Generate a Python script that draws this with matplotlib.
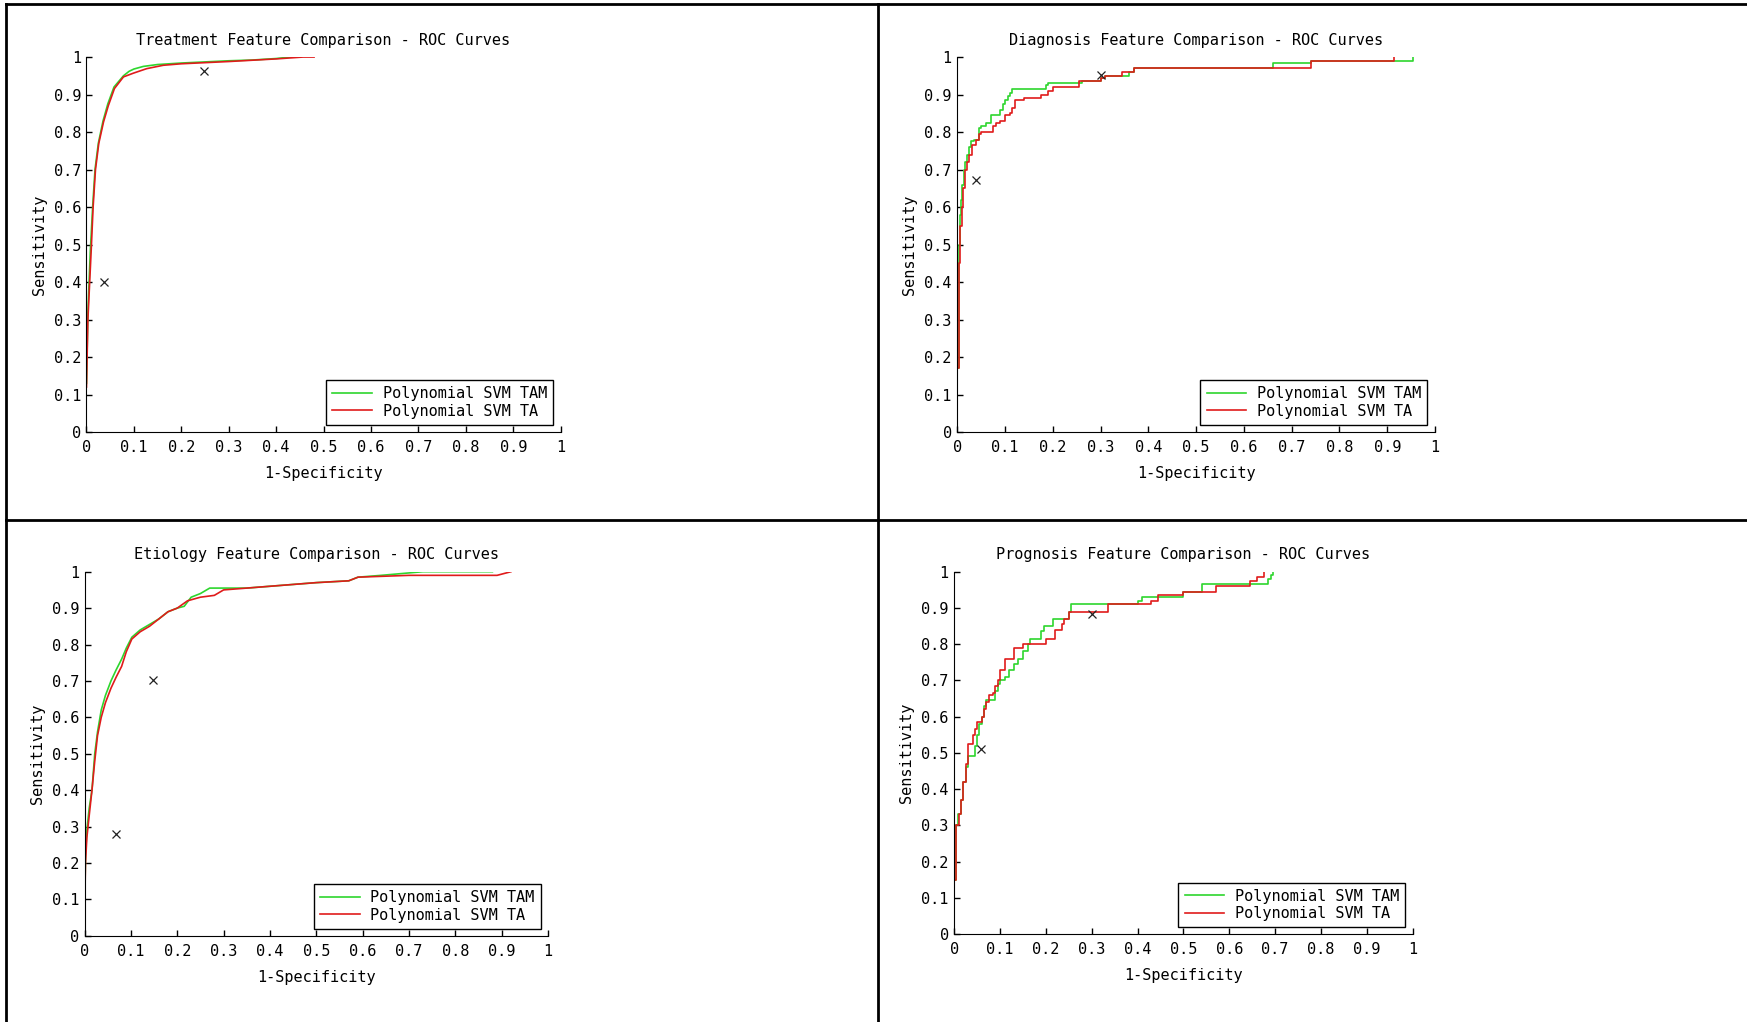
import matplotlib
matplotlib.use("Agg")
import matplotlib.pyplot as plt
from matplotlib.lines import Line2D

plt.rcParams['font.family'] = ['DejaVu Sans Mono']

GREEN = '#2ed62e'
RED = '#e01b1b'

# ---- data (1-specificity, sensitivity) ----
treat_tam_x = [0, 0.003, 0.008, 0.013, 0.018, 0.025, 0.035, 0.045, 0.058, 0.078, 0.09, 0.1,
               0.12, 0.15, 0.2, 0.25, 0.3, 0.35, 0.4, 0.43, 0.44]
treat_tam_y = [0.13, 0.32, 0.48, 0.60, 0.70, 0.77, 0.83, 0.875, 0.92, 0.95, 0.962, 0.968,
               0.975, 0.98, 0.984, 0.987, 0.99, 0.992, 0.996, 1.0, 1.0]
treat_ta_x = [0, 0.003, 0.01, 0.014, 0.019, 0.026, 0.036, 0.046, 0.059, 0.078, 0.099, 0.127,
              0.162, 0.2, 0.3, 0.4, 0.457, 0.48]
treat_ta_y = [0.12, 0.30, 0.486, 0.60, 0.70, 0.77, 0.827, 0.87, 0.916, 0.947, 0.957, 0.969,
              0.978, 0.982, 0.988, 0.995, 1.0, 1.0]
treat_pts_x = [0.248, 0.037]
treat_pts_y = [0.964, 0.399]

diag_tam_x = [0, 0.003, 0.005, 0.008, 0.01, 0.013, 0.016, 0.02, 0.024, 0.028,
              0.035, 0.045, 0.05, 0.06, 0.07, 0.09, 0.095, 0.1, 0.105, 0.11,
              0.115, 0.185, 0.19, 0.26, 0.3, 0.31, 0.36, 0.37, 0.66, 0.74, 0.955]
diag_tam_y = [0.17, 0.50, 0.58, 0.62, 0.66, 0.70, 0.72, 0.74, 0.76, 0.775,
              0.78, 0.81, 0.815, 0.825, 0.845, 0.86, 0.875, 0.885, 0.895, 0.905,
              0.915, 0.925, 0.93, 0.935, 0.945, 0.95, 0.96, 0.97, 0.985, 0.99, 1.0]
diag_ta_x = [0, 0.003, 0.006, 0.01, 0.012, 0.015, 0.02, 0.025, 0.03, 0.04,
             0.045, 0.05, 0.075, 0.08, 0.09, 0.1, 0.11, 0.115, 0.12, 0.14,
             0.175, 0.19, 0.2, 0.255, 0.3, 0.31, 0.345, 0.37, 0.74, 0.915]
diag_ta_y = [0.17, 0.45, 0.55, 0.60, 0.65, 0.70, 0.72, 0.74, 0.765, 0.78,
             0.795, 0.80, 0.815, 0.825, 0.83, 0.845, 0.85, 0.865, 0.885, 0.89,
             0.90, 0.91, 0.92, 0.935, 0.945, 0.95, 0.96, 0.97, 0.99, 1.0]
diag_pts_x = [0.30, 0.039]
diag_pts_y = [0.951, 0.672]

etio_tam_x = [0, 0.002, 0.005, 0.01, 0.016, 0.022, 0.028, 0.036, 0.045, 0.057,
              0.068, 0.08, 0.09, 0.102, 0.12, 0.14, 0.16, 0.18, 0.2, 0.215,
              0.23, 0.25, 0.27, 0.3, 0.35, 0.4, 0.45, 0.5, 0.57, 0.59,
              0.64, 0.73, 0.88]
etio_tam_y = [0.05, 0.22, 0.29, 0.35, 0.40, 0.50, 0.56, 0.62, 0.66, 0.70,
              0.73, 0.76, 0.79, 0.82, 0.84, 0.855, 0.87, 0.89, 0.90, 0.905,
              0.93, 0.94, 0.955, 0.955, 0.955, 0.96, 0.965, 0.97, 0.975, 0.985,
              0.99, 1.0, 1.0]
etio_ta_x = [0, 0.002, 0.005, 0.01, 0.016, 0.022, 0.028, 0.036, 0.045, 0.057,
             0.068, 0.08, 0.09, 0.102, 0.12, 0.14, 0.16, 0.18, 0.2, 0.222,
             0.25, 0.28, 0.3, 0.35, 0.4, 0.45, 0.5, 0.57, 0.59, 0.7,
             0.89, 0.92]
etio_ta_y = [0.05, 0.2, 0.27, 0.33, 0.40, 0.48, 0.55, 0.60, 0.64, 0.68,
             0.71, 0.74, 0.78, 0.815, 0.835, 0.85, 0.87, 0.89, 0.90, 0.92,
             0.93, 0.935, 0.95, 0.955, 0.96, 0.965, 0.97, 0.975, 0.985, 0.99,
             0.99, 1.0]
etio_pts_x = [0.148, 0.067]
etio_pts_y = [0.702, 0.28]

prog_tam_x = [0, 0.003, 0.008, 0.015, 0.02, 0.025, 0.03, 0.045, 0.05, 0.055,
              0.06, 0.065, 0.07, 0.09, 0.095, 0.1, 0.11, 0.12, 0.13, 0.14,
              0.15, 0.16, 0.165, 0.19, 0.195, 0.215, 0.25, 0.255, 0.40, 0.41,
              0.50, 0.54, 0.685, 0.69, 0.695]
prog_tam_y = [0.15, 0.30, 0.33, 0.37, 0.42, 0.46, 0.49, 0.52, 0.55, 0.58,
              0.60, 0.63, 0.645, 0.67, 0.69, 0.70, 0.71, 0.73, 0.745, 0.76,
              0.78, 0.80, 0.815, 0.835, 0.85, 0.87, 0.89, 0.91, 0.92, 0.93,
              0.945, 0.965, 0.98, 0.99, 1.0]
prog_ta_x = [0, 0.003, 0.01, 0.015, 0.02, 0.025, 0.03, 0.04, 0.045, 0.05,
             0.06, 0.065, 0.07, 0.075, 0.085, 0.09, 0.095, 0.1, 0.11, 0.13,
             0.15, 0.2, 0.22, 0.235, 0.24, 0.25, 0.335, 0.43, 0.445, 0.5,
             0.57, 0.645, 0.66, 0.675]
prog_ta_y = [0.15, 0.30, 0.33, 0.37, 0.42, 0.47, 0.525, 0.55, 0.565, 0.585,
             0.60, 0.62, 0.64, 0.66, 0.665, 0.685, 0.70, 0.73, 0.76, 0.79,
             0.80, 0.815, 0.84, 0.855, 0.87, 0.89, 0.91, 0.92, 0.935, 0.945,
             0.96, 0.975, 0.985, 1.0]
prog_pts_x = [0.058, 0.30]
prog_pts_y = [0.51, 0.882]

labels = ['Polynomial SVM TAM', 'Polynomial SVM TA']
ticks = [i / 10 for i in range(11)]
tick_labels = ['0'] + ['0.%d' % i for i in range(1, 10)] + ['1']

panels = [
    ('Treatment Feature Comparison - ROC Curves', [0.0495, 0.5773, 0.2714, 0.3669],
     treat_tam_x, treat_tam_y, treat_ta_x, treat_ta_y, treat_pts_x, treat_pts_y, None),
    ('Diagnosis Feature Comparison - ROC Curves', [0.548, 0.5773, 0.2734, 0.3669],
     diag_tam_x, diag_tam_y, diag_ta_x, diag_ta_y, diag_pts_x, diag_pts_y, 'steps-post'),
    ('Etiology Feature Comparison - ROC Curves', [0.0484, 0.0844, 0.2653, 0.3562],
     etio_tam_x, etio_tam_y, etio_ta_x, etio_ta_y, etio_pts_x, etio_pts_y, None),
    ('Prognosis Feature Comparison - ROC Curves', [0.5462, 0.0861, 0.2624, 0.3545],
     prog_tam_x, prog_tam_y, prog_ta_x, prog_ta_y, prog_pts_x, prog_pts_y, 'steps-post'),
]

fig = plt.figure(figsize=(17.47, 10.22), dpi=100)

for title, rect, gx, gy, rx, ry, px, py, ds in panels:
    ax = fig.add_axes(rect)
    kw = {'drawstyle': ds} if ds else {}
    ax.plot(gx, gy, color=GREEN, lw=1.2, label=labels[0], **kw)
    ax.plot(rx, ry, color=RED, lw=1.2, label=labels[1], **kw)
    ax.plot(px, py, 'x', color='#222222', ms=6, mew=0.9)
    ax.set_xlim(0, 1)
    ax.set_ylim(0, 1)
    ax.set_xticks(ticks)
    ax.set_xticklabels(tick_labels)
    ax.set_yticks(ticks)
    ax.set_yticklabels(tick_labels)
    ax.tick_params(direction='in', length=4, width=1, labelsize=11)
    ax.tick_params(axis='x', pad=6)
    ax.tick_params(axis='y', pad=4)
    ax.spines['top'].set_visible(False)
    ax.spines['right'].set_visible(False)
    ax.set_title(title, fontsize=11, pad=9)
    ax.set_xlabel('1-Specificity', fontsize=11, labelpad=8)
    ax.set_ylabel('Sensitivity', fontsize=11, labelpad=5)
    leg = ax.legend(loc='lower right', bbox_to_anchor=(0.984, 0.019), borderaxespad=0,
                    fontsize=11, fancybox=False, framealpha=1, edgecolor='black',
                    handlelength=2.6, labelspacing=0.15, borderpad=0.4, handletextpad=0.7)
    leg.get_frame().set_linewidth(1.0)

# panel borders of the scanned table
lw = 2.0
fig.add_artist(Line2D([6 / 1747, 1], [1 - 4 / 1022, 1 - 4 / 1022], color='black', lw=lw))
fig.add_artist(Line2D([6 / 1747, 6 / 1747], [0, 1 - 4 / 1022], color='black', lw=lw))
fig.add_artist(Line2D([878 / 1747, 878 / 1747], [0, 1 - 4 / 1022], color='black', lw=lw))
fig.add_artist(Line2D([6 / 1747, 1], [1 - 520 / 1022, 1 - 520 / 1022], color='black', lw=lw))

fig.savefig('out.png', dpi=100)
